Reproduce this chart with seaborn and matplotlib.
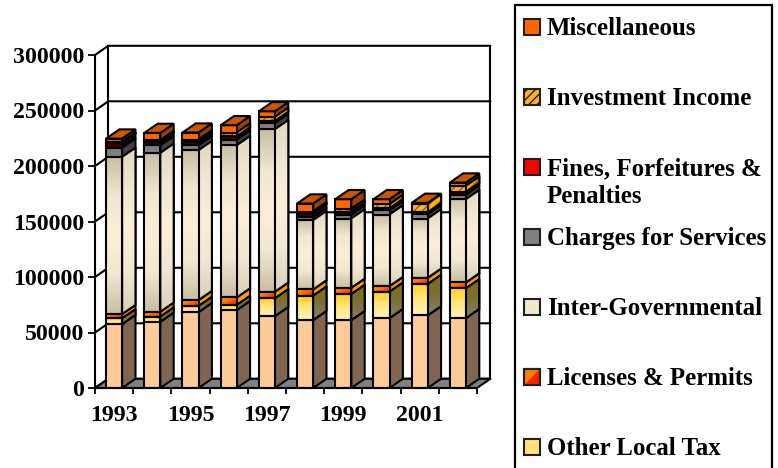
import numpy as np
import matplotlib
matplotlib.use("Agg")
import matplotlib.pyplot as plt
from matplotlib.colors import LinearSegmentedColormap
from matplotlib.patches import Patch, Polygon, Rectangle
from matplotlib.legend_handler import HandlerBase
import seaborn as sns

years = ["1993", "1994", "1995", "1996", "1997", "1998", "1999", "2000", "2001", "2002"]
shown_years = ["1993", "1995", "1997", "1999", "2001"]
y_ticks = [0, 50000, 100000, 150000, 200000, 250000, 300000]

base_tax = [57600, 59700, 68400, 70200, 64800, 61200, 61200, 63000, 65400, 63000]
other_local_tax = [5100, 4500, 5400, 4500, 15900, 21900, 23400, 23700, 28200, 26700]
licenses_permits = [3900, 4500, 5400, 6900, 6000, 5700, 5700, 5100, 5700, 5400]
inter_governmental = [141600, 143100, 135000, 137100, 146400, 62400, 62400, 64500, 53400, 75000]
charges_services = [8400, 6900, 4500, 5100, 5700, 3000, 3600, 3900, 3900, 4200]
fines_penalties = [4500, 3000, 3000, 3000, 1800, 3600, 2700, 1800, 1800, 2400]
investment_income = [600, 1500, 2100, 3300, 3600, 1200, 2400, 3600, 7800, 5400]
miscellaneous = [3000, 6600, 6300, 6600, 5100, 7200, 8700, 4500, 600, 3000]

stack_values = [base_tax, other_local_tax, licenses_permits, inter_governmental,
                charges_services, fines_penalties, investment_income, miscellaneous]
front_colors = ["#FFCC99", "#FFD21F", "#FF8000", "#F0E8D2", "#808080", "#400000", "#FFB020", "#FF6600"]
side_colors = ["#806650", "#807020", "#FF9900", "#F5ECD8", "#404040", "#200000", "#FFB000", "#994000"]
top_color = "#CC5500"
legend_labels = ["Miscellaneous", "Investment Income", "Fines, Forfeitures &", "Charges for Services",
                 "Inter-Governmental", "Licenses & Permits", "Other Local Tax"]
legend_colors = ["#FF6600", "#FFB020", "#FF0000", "#808080", "#F0E8D2", "#FF8000", "#FFE27A"]

sns.set_theme(style="ticks")
plt.rcParams["font.family"] = ["Liberation Serif", "DejaVu Serif"]
plt.rcParams["font.weight"] = "bold"
plt.rcParams["hatch.linewidth"] = 1.0

W, H = 778, 468
FS = 17.2
LEG_FS = 17.9
LW = 1.5
fig = plt.figure(figsize=(W / 100, H / 100), dpi=100, facecolor="white")
ax = fig.add_axes([95 / W, 1 - 388 / H, 382 / W, 333 / H])

BAR_W = 0.42
DX = 0.35     # depth of the pseudo-3D in category units
DY = 8300     # depth of the pseudo-3D in value units
n = len(years)


def grad_image(colors, poly, vertical=True, z=2):
    xs, ys = zip(*poly)
    cmap = LinearSegmentedColormap.from_list("g", colors)
    if vertical:
        arr = np.linspace(0, 1, 64)[:, None]
    else:
        u, v = np.meshgrid(np.linspace(0, 1, 32), np.linspace(0, 1, 32))
        arr = (u + 1 - v) / 2
    im = ax.imshow(arr, cmap=cmap, vmin=0, vmax=1, origin="lower", aspect="auto",
                   extent=(min(xs), max(xs), min(ys), max(ys)), zorder=z, interpolation="bilinear")
    clip = Polygon(poly, closed=True, transform=ax.transData, fc="none", ec="none")
    im.set_clip_path(clip)
    return im


# walls, floor and gridlines
xl, xr = -0.5, n - 0.5
ax.add_patch(Polygon([(xl, 0), (xr, 0), (xr + DX, DY), (xl + DX, DY)], closed=True, fc="#808080",
                     ec="black", lw=LW, zorder=1, clip_on=False))
for v in y_ticks:
    ax.plot([xl, xl + DX, xr + DX], [v, v + DY, v + DY], color="black", lw=LW, zorder=0.5,
            clip_on=False, solid_joinstyle="miter")
ax.plot([xl + DX, xl + DX], [DY, 300000 + DY], color="black", lw=LW, zorder=0.6, clip_on=False)
ax.plot([xr + DX, xr + DX], [DY, 300000 + DY], color="black", lw=LW, zorder=0.6, clip_on=False)

# front faces through seaborn, stacked
bottom = np.zeros(n)
layers = []
for vals, color in zip(stack_values, front_colors):
    before = len(ax.patches)
    sns.barplot(x=years, y=vals, bottom=bottom, color=color, saturation=1, width=BAR_W,
                edgecolor="black", linewidth=LW, ax=ax, zorder=4)
    layers.append(ax.patches[before:])
    bottom = bottom + np.array(vals)

side_grads = {1: ["#808068", "#7D7035", "#806A10"],
              3: ["#D8D0B8", "#F0E8D2", "#FBEFD8", "#F0E8D2", "#E0D8C0"]}
front_grads = {1: ["#FFF2B8", "#FFE680", "#FFD21F"],
               3: ["#C8BFA4", "#F0E8D2", "#FCEFD8", "#F0E8D2", "#C8BFA4"]}

for idx, patches in enumerate(layers):
    for p in patches:
        x0, w, y0, h = p.get_x(), p.get_width(), p.get_y(), p.get_height()
        x1, y1 = x0 + w, y0 + h
        side = [(x1, y0), (x1 + DX, y0 + DY), (x1 + DX, y1 + DY), (x1, y1)]
        ax.add_patch(Polygon(side, closed=True, fc=side_colors[idx], ec="black", lw=LW, zorder=3,
                             clip_on=False))
        if idx in side_grads:
            grad_image(side_grads[idx], side, z=3.1)
            ax.add_patch(Polygon(side, closed=True, fc="none", ec="black", lw=LW, zorder=3.2, clip_on=False))
        front = [(x0, y0), (x1, y0), (x1, y1), (x0, y1)]
        if idx in front_grads:
            p.set_facecolor("none")
            grad_image(front_grads[idx], front, z=3.5)
        if idx == 2:
            p.set_facecolor("none")
            grad_image(["#FFA000", "#FF6A00", "#FF0000"], front, vertical=False, z=3.5)
        if idx == 6:
            ax.add_patch(Rectangle((x0, y0), w, h, fc="#FFB020", ec="#8A6410", hatch="////", lw=0, zorder=3.6))
            ax.add_patch(Polygon(side, closed=True, fc="#FFB000", ec="#8A6410", hatch="////", lw=0, zorder=3.3, clip_on=False))
            ax.add_patch(Polygon(side, closed=True, fc="none", ec="black", lw=LW, zorder=3.4, clip_on=False))
            p.set_facecolor("none")
        p.set_zorder(4)
# top cap of each full stack
for p in layers[-1]:
    x0, x1, y1 = p.get_x(), p.get_x() + p.get_width(), p.get_y() + p.get_height()
    ax.add_patch(Polygon([(x0, y1), (x1, y1), (x1 + DX, y1 + DY), (x0 + DX, y1 + DY)], closed=True,
                         fc=top_color, ec="black", lw=LW, zorder=4, clip_on=False))

ax.set_xlim(xl, xr)
ax.set_ylim(0, 300000)
ax.set_yticks(y_ticks)
ax.set_yticklabels([str(v) for v in y_ticks], fontsize=FS, fontweight="bold", color="black")
ax.set_xticks(range(0, n, 2))
ax.set_xticklabels(shown_years, fontsize=FS, fontweight="bold", color="black")
ax.set_xticks(np.arange(xl, xr + 0.1, 1), minor=True)
ax.tick_params(axis="x", which="major", length=0, pad=12.5)
ax.tick_params(axis="x", which="minor", length=4.5, width=1.3, color="black")
ax.tick_params(axis="y", length=5, width=1.3, color="black", pad=3)
ax.set_xlabel("")
ax.set_ylabel("")
for s in ("top", "right"):
    ax.spines[s].set_visible(False)
for s in ("left", "bottom"):
    ax.spines[s].set_color("black")
    ax.spines[s].set_linewidth(LW)
    ax.spines[s].set_zorder(5)


# legend
class Swatch(HandlerBase):
    def create_artists(self, legend, orig, xd, yd, width, height, fontsize, trans):
        base = Rectangle((xd, yd), width, height, fc=orig.get_facecolor(), ec="#202020", lw=1.5,
                         hatch=orig.get_hatch(), transform=trans)
        artists = [base]
        if orig.get_label() == "Licenses & Permits":
            artists.insert(0, base)
            artists.append(Polygon([(xd + width, yd), (xd + width, yd + height), (xd, yd)], closed=True,
                                   fc="#FF2000", ec="none", transform=trans))
            artists.append(Rectangle((xd, yd), width, height, fc="none", ec="#202020", lw=1.5, transform=trans))
            artists = artists[1:]
        return artists


handles = []
for lab, col in zip(legend_labels, legend_colors):
    if lab.startswith("Investment"):
        handles.append(Patch(facecolor=col, hatch="////", label=lab))
    else:
        handles.append(Patch(facecolor=col, label=lab))
fpx = LEG_FS * 100 / 72
ax.add_patch(Rectangle((515 / W, 1 - 480 / H), 257 / W, 475 / H, transform=fig.transFigure,
                       fc="white", ec="black", lw=1.6, zorder=9, clip_on=False))
leg = ax.legend(handles, legend_labels, handler_map={Patch: Swatch()},
                loc="upper left", bbox_to_anchor=(524 / W, 1 - 17 / H), bbox_transform=fig.transFigure,
                borderaxespad=0, borderpad=0, labelspacing=1.89,
                handlelength=16 / fpx, handleheight=16 / fpx, handletextpad=7 / fpx,
                frameon=False,
                prop={"family": "Liberation Serif", "weight": "bold", "size": LEG_FS})
leg.set_zorder(10)
for t in leg.get_texts():
    t.set_color("black")
fig.text(547 / W, 1 - 196 / H, "Penalties", fontsize=LEG_FS, fontweight="bold", color="black",
         family="Liberation Serif", va="center", ha="left", zorder=3)

fig.savefig("out.png", dpi=100)
